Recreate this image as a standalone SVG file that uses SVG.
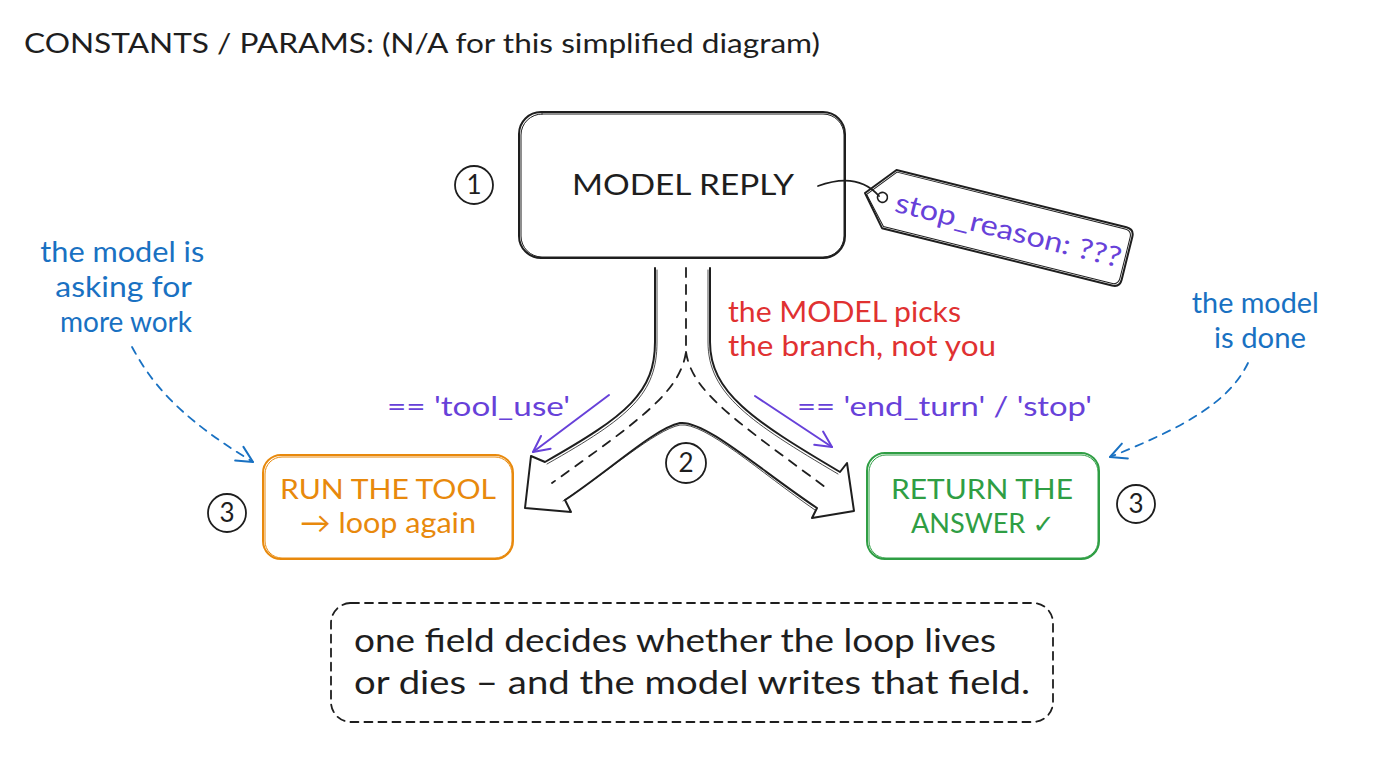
<svg xmlns="http://www.w3.org/2000/svg" width="1376" height="768" viewBox="0 0 1376 768">
  <style>
    .hand { font-family: "Lato", "Liberation Sans", "DejaVu Sans", sans-serif; }
    .ink { fill: none; stroke: #1e1e1e; stroke-linecap: round; stroke-linejoin: round; }
    .num { font-family: "Lato", "Liberation Sans", sans-serif; font-size: 26px; fill: #1e1e1e; text-anchor: middle; }
    .purple { fill: #6741d9; }
    .blue { fill: #1971c2; }
    .red { fill: #e03131; }
  </style>
  <defs>
    <marker id="arrP" viewBox="0 0 20 20" refX="18" refY="10" markerWidth="20" markerHeight="20" markerUnits="userSpaceOnUse" orient="auto">
      <path d="M2,2 L18,10 L2,18" fill="none" stroke="#6741d9" stroke-width="2" stroke-linecap="round" stroke-linejoin="round"/>
    </marker>
    <marker id="arrB" viewBox="0 0 20 20" refX="18" refY="10" markerWidth="20" markerHeight="20" markerUnits="userSpaceOnUse" orient="auto">
      <path d="M2,2 L18,10 L2,18" fill="none" stroke="#1971c2" stroke-width="2" stroke-linecap="round" stroke-linejoin="round"/>
    </marker>
  </defs>
  <rect width="1376" height="768" fill="#ffffff"/>

  <text class="hand" x="24" y="53" font-size="27" fill="#1e1e1e" textLength="796" lengthAdjust="spacingAndGlyphs">CONSTANTS / PARAMS: (N/A for this simplified diagram)</text>

  <g id="model-reply">
    <rect x="519" y="112" width="326" height="146" rx="22" class="ink" stroke-width="2"/>
    <rect x="521" y="114" width="323" height="143" rx="21" class="ink" stroke-width="1"/>
    <text class="hand" x="683" y="195" font-size="28" fill="#1e1e1e" text-anchor="middle" textLength="222" lengthAdjust="spacingAndGlyphs">MODEL REPLY</text>
  </g>

  <g id="step1">
    <circle cx="474" cy="185" r="19" class="ink" stroke-width="1.8"/>
    <text class="num" x="474" y="194">1</text>
  </g>

  <g id="tag">
    <g transform="translate(865,193) rotate(14)">
      <path d="M0,0 L25,-30 L262,-30 Q270,-30 270,-22 L270,22 Q270,30 262,30 L25,30 Z" class="ink" stroke-width="2"/>
      <path d="M2,1 L26,-28 L261,-28 Q268,-28 268,-21 L268,21 Q268,28 261,28 L26,28 Z" class="ink" stroke-width="1"/>
      <circle cx="18" cy="0" r="5" class="ink" stroke-width="1.6"/>
      <text class="hand purple" x="32" y="11" font-size="28" textLength="232" lengthAdjust="spacingAndGlyphs">stop_reason: ???</text>
    </g>
  </g>

  <g id="step2">
    <circle cx="686" cy="463" r="20" class="ink" stroke-width="1.8"/>
    <text class="num" x="686" y="472">2</text>
  </g>

  <g id="run-tool">
    <rect x="263" y="455" width="250" height="104" rx="18" fill="none" stroke="#e8890c" stroke-width="2"/>
    <rect x="265" y="457" width="247" height="101" rx="17" fill="none" stroke="#e8890c" stroke-width="1"/>
    <text class="hand" x="388" y="499" font-size="26" fill="#e8890c" text-anchor="middle" textLength="216" lengthAdjust="spacingAndGlyphs">RUN THE TOOL</text>
    <text class="hand" x="388" y="533" font-size="29" fill="#e8890c" text-anchor="middle" textLength="176" lengthAdjust="spacingAndGlyphs">→ loop again</text>
  </g>

  <g id="step3-left">
    <circle cx="227" cy="513" r="19" class="ink" stroke-width="1.8"/>
    <text class="num" x="227" y="522">3</text>
  </g>

  <g id="return-answer">
    <rect x="867" y="453" width="232" height="106" rx="18" fill="none" stroke="#2f9e44" stroke-width="2"/>
    <rect x="869" y="455" width="229" height="103" rx="17" fill="none" stroke="#2f9e44" stroke-width="1"/>
    <text class="hand" x="982" y="499" font-size="26" fill="#2f9e44" text-anchor="middle" textLength="182" lengthAdjust="spacingAndGlyphs">RETURN THE</text>
    <text class="hand" x="983" y="533" font-size="26" fill="#2f9e44" text-anchor="middle" textLength="144" lengthAdjust="spacingAndGlyphs">ANSWER ✓</text>
  </g>

  <g id="step3-right">
    <circle cx="1136" cy="504" r="19" class="ink" stroke-width="1.8"/>
    <text class="num" x="1136" y="513">3</text>
  </g>

  <g id="note-blue-left">
    <text class="hand blue" font-size="29" text-anchor="middle">
      <tspan x="126" y="262" textLength="164" lengthAdjust="spacingAndGlyphs">the model is</tspan>
      <tspan x="127" y="297" textLength="136" lengthAdjust="spacingAndGlyphs">asking for</tspan>
      <tspan x="126" y="332" textLength="132" lengthAdjust="spacingAndGlyphs">more work</tspan>
    </text>
  </g>

  <g id="note-blue-right">
    <text class="hand blue" font-size="29" text-anchor="middle">
      <tspan x="1259" y="313" textLength="127" lengthAdjust="spacingAndGlyphs">the model</tspan>
      <tspan x="1260" y="348" textLength="92" lengthAdjust="spacingAndGlyphs">is done</tspan>
    </text>
  </g>

  <g id="note-red">
    <text class="hand red" font-size="29">
      <tspan x="728" y="322" textLength="233" lengthAdjust="spacingAndGlyphs">the MODEL picks</tspan>
      <tspan x="728" y="356" textLength="268" lengthAdjust="spacingAndGlyphs">the branch, not you</tspan>
    </text>
  </g>

  <g id="labels-purple">
    <text class="hand purple" x="387" y="416" font-size="27" textLength="183" lengthAdjust="spacingAndGlyphs">== 'tool_use'</text>
    <text class="hand purple" x="797" y="416" font-size="27" textLength="295" lengthAdjust="spacingAndGlyphs">== 'end_turn' / 'stop'</text>
  </g>

  <g id="connectors">
    <!-- tag string -->
    <path d="M818,186 C845,176 865,180 879,196" class="ink" stroke-width="1.8"/>
    <!-- Y-shaped fork arrow -->
    <path d="M655,268 L655,342 C655,392 628,415 545,462 L531,456 L525,508 L571,512 L565,500 C610,470 655,428 680,423 C705,420 760,470 817,508 L812,518 L854,511 L847,463 L840,472 C752,420 710,392 710,342 L710,268" class="ink" stroke-width="2"/>
    <path d="M657,270 L657,342 C657,394 630,417 547,464 M563,501 C608,472 655,430 680,425 C705,422 760,472 815,510 M838,474 C750,422 708,394 708,342 L708,270" class="ink" stroke-width="0.8"/>
    <path d="M686,268 L686,352 C680,392 640,420 552,483 M686,352 C692,392 735,420 825,487" class="ink" stroke-width="1.8" stroke-dasharray="9 8"/>
    <!-- purple pointers -->
    <path d="M609,395 L533,452" fill="none" stroke="#6741d9" stroke-width="2" stroke-linecap="round" marker-end="url(#arrP)"/>
    <path d="M755,396 L832,447" fill="none" stroke="#6741d9" stroke-width="2" stroke-linecap="round" marker-end="url(#arrP)"/>
    <!-- blue dashed pointers -->
    <path d="M132,347 C150,380 175,415 253,462" fill="none" stroke="#1971c2" stroke-width="1.8" stroke-dasharray="8 7" stroke-linecap="round" marker-end="url(#arrB)"/>
    <path d="M1248,363 C1230,400 1190,425 1110,457" fill="none" stroke="#1971c2" stroke-width="1.8" stroke-dasharray="8 7" stroke-linecap="round" marker-end="url(#arrB)"/>
  </g>

  <g id="summary">
    <rect x="331" y="603" width="722" height="119" rx="20" class="ink" stroke-width="1.8" stroke-dasharray="8 6"/>
    <text class="hand" font-size="32" fill="#1e1e1e">
      <tspan x="354" y="652" textLength="642" lengthAdjust="spacingAndGlyphs">one field decides whether the loop lives</tspan>
      <tspan x="354" y="694" textLength="676" lengthAdjust="spacingAndGlyphs">or dies – and the model writes that field.</tspan>
    </text>
  </g>
</svg>
